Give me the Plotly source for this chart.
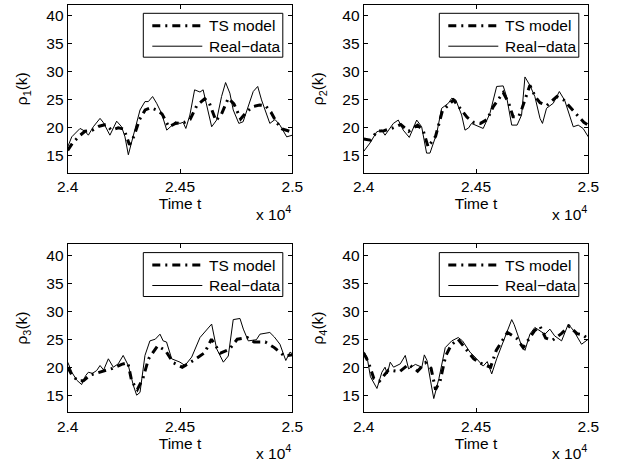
import plotly.graph_objects as go

# ---------------- data ----------------
t1_real = [24000, 24018, 24055, 24077, 24092, 24114, 24144, 24158, 24188, 24218, 24240, 24255, 24270, 24300,
           24322, 24344, 24359, 24378, 24396, 24418, 24441, 24463, 24478, 24500, 24514, 24526, 24544, 24565,
           24589, 24603, 24619, 24641, 24663, 24685, 24703, 24722, 24737, 24762, 24781, 24804, 24826, 24846,
           24863, 24900, 24923, 24945, 24975, 25000]
rho1_real = [16.6, 18.4, 19.9, 19.4, 18.7, 20.2, 21.7, 21.0, 18.7, 21.2, 20.2, 18.4, 15.2, 19.6,
             23.2, 24.7, 24.7, 25.6, 24.4, 22.6, 19.6, 20.4, 21.1, 20.8, 21.0, 19.9, 22.3, 26.8,
             26.4, 26.8, 24.1, 20.2, 21.4, 25.6, 28.1, 26.2, 23.2, 20.8, 21.1, 23.8, 26.5, 27.4,
             25.0, 20.8, 21.5, 20.5, 18.4, 18.7]
t1_ts = [24000, 24020, 24050, 24077, 24110, 24140, 24170, 24195, 24225, 24250, 24275, 24295, 24320, 24345,
         24370, 24395, 24420, 24450, 24480, 24520, 24545, 24575, 24610, 24630, 24660, 24685, 24715, 24740,
         24770, 24795, 24825, 24855, 24880, 24905, 24930, 24955, 24980, 25000]
rho1_ts = [16.0, 17.2, 18.5, 19.4, 19.6, 20.3, 20.6, 19.6, 20.0, 19.8, 17.0, 18.5, 21.5, 23.2,
           23.6, 23.2, 22.5, 20.2, 20.8, 21.0, 21.5, 24.0, 25.2, 24.5, 21.3, 22.5, 25.3, 24.3,
           21.6, 22.8, 23.8, 24.1, 24.0, 22.8, 21.0, 19.8, 19.5, 19.2]

t2_real = [24000, 24028, 24058, 24080, 24095, 24132, 24154, 24176, 24203, 24236, 24258, 24268, 24280, 24295,
           24325, 24347, 24377, 24392, 24410, 24436, 24451, 24467, 24480, 24532, 24562, 24592, 24621, 24636,
           24659, 24683, 24703, 24718, 24740, 24762, 24785, 24796, 24814, 24844, 24871, 24895, 24933, 24955,
           24977, 25000]
rho2_real = [15.8, 17.3, 19.3, 19.6, 18.7, 20.8, 21.4, 19.6, 18.3, 21.4, 20.2, 17.8, 15.5, 15.5,
             19.0, 23.5, 24.4, 25.3, 25.0, 22.3, 19.6, 20.0, 20.8, 19.9, 22.6, 27.4, 27.5, 25.6,
             20.5, 20.5, 22.3, 29.1, 27.6, 25.6, 21.7, 20.8, 23.5, 24.4, 26.5, 24.9, 20.2, 20.5,
             19.9, 18.4]
t2_ts = [24000, 24030, 24060, 24090, 24130, 24165, 24200, 24240, 24265, 24287, 24320, 24350, 24400, 24430,
         24460, 24490, 24520, 24550, 24577, 24621, 24645, 24665, 24690, 24705, 24740, 24765, 24785, 24815,
         24860, 24890, 24920, 24955, 24980, 25000]
rho2_ts = [18.0, 17.8, 19.4, 19.5, 20.0, 20.6, 19.4, 20.5, 19.5, 16.6, 18.5, 23.0, 25.0, 23.5,
           21.9, 21.0, 20.8, 21.5, 23.8, 26.3, 24.5, 22.0, 22.0, 23.5, 27.6, 25.5, 24.5, 24.0,
           25.6, 25.0, 23.7, 22.0, 21.0, 20.5]

t3_real = [24000, 24020, 24040, 24062, 24080, 24092, 24110, 24129, 24144, 24160, 24181, 24203, 24225, 24247,
           24270, 24292, 24307, 24322, 24344, 24366, 24390, 24411, 24425, 24440, 24463, 24500, 24522, 24552,
           24589, 24619, 24641, 24663, 24693, 24715, 24737, 24767, 24782, 24804, 24840, 24856, 24900, 24920,
           24945, 24971, 24990, 25000]
rho3_real = [20.9, 19.0, 17.7, 16.9, 18.5, 19.1, 18.9, 19.4, 20.3, 19.5, 21.5, 20.0, 20.6, 22.1,
             20.3, 16.8, 15.0, 15.5, 22.1, 24.7, 25.0, 25.9, 24.7, 24.5, 21.5, 20.9, 20.3, 21.8,
             25.3, 26.8, 27.7, 23.3, 20.9, 22.0, 28.5, 28.7, 26.8, 24.7, 24.9, 25.9, 26.2, 25.4,
             24.1, 21.2, 22.7, 22.4]
t3_ts = [24000, 24020, 24045, 24070, 24100, 24130, 24160, 24200, 24240, 24268, 24285, 24310, 24335, 24360,
         24400, 24435, 24470, 24510, 24560, 24610, 24640, 24680, 24720, 24755, 24800, 24830, 24880, 24920,
         24965, 25000]
rho3_ts = [20.0, 18.5, 17.6, 17.6, 18.6, 19.0, 19.3, 19.8, 20.5, 20.8, 17.5, 16.0, 18.0, 21.5,
           23.8, 23.0, 20.8, 20.0, 21.2, 22.6, 25.0, 22.5, 23.2, 25.0, 25.3, 24.5, 24.5, 23.5,
           22.0, 22.2]

t4_real = [24000, 24015, 24030, 24052, 24059, 24081, 24095, 24105, 24118, 24133, 24163, 24185, 24200, 24230,
           24259, 24270, 24282, 24300, 24312, 24335, 24363, 24392, 24421, 24440, 24473, 24503, 24532, 24550,
           24570, 24592, 24621, 24659, 24670, 24703, 24718, 24740, 24762, 24785, 24807, 24829, 24850, 24881,
           24911, 24935, 24970, 25000]
rho4_real = [22.8, 21.8, 18.3, 16.8, 16.2, 19.1, 20.0, 18.8, 20.9, 20.0, 20.6, 22.1, 19.7, 20.5,
             20.0, 22.2, 21.2, 17.0, 14.4, 18.0, 23.5, 24.7, 25.3, 24.7, 22.7, 21.5, 20.2, 21.0,
             18.8, 21.5, 24.4, 28.5, 27.6, 23.8, 23.0, 25.9, 27.1, 26.5, 25.9, 26.8, 25.6, 24.7,
             27.7, 26.5, 24.1, 25.0]
t4_ts = [24000, 24020, 24045, 24070, 24110, 24160, 24200, 24240, 24275, 24300, 24320, 24340, 24365, 24390,
         24420, 24460, 24490, 24530, 24565, 24590, 24640, 24680, 24710, 24760, 24785, 24810, 24840, 24880,
         24915, 24950, 24975, 25000]
rho4_ts = [22.5, 21.0, 18.0, 17.5, 19.5, 19.2, 20.5, 19.3, 20.8, 19.8, 16.0, 17.5, 22.0, 24.0,
           25.0, 23.0, 21.5, 20.5, 20.0, 23.0, 26.2, 25.2, 23.5, 26.5, 27.3, 25.2, 24.8, 26.0,
           27.3, 26.0, 25.8, 25.0]

x_tickvals = [24000, 24500, 25000]
x_ticktext = ["2.4", "2.45", "2.5"]
y_tickvals = [15, 20, 25, 30, 35, 40]
y_labels = ["ρ<sub>1</sub>(k)", "ρ<sub>2</sub>(k)", "ρ<sub>3</sub>(k)", "ρ<sub>4</sub>(k)"]
x_label = "Time t"
series_names = ["TS model", "Real−data"]

# ---------------- figure ----------------
W, H = 624, 461
FONT = "Liberation Sans, Arial, sans-serif"
FS = 15.5
TS_DASH = "8px,5px,2px,5px"

panels = [
    (t1_real, rho1_real, t1_ts, rho1_ts),
    (t2_real, rho2_real, t2_ts, rho2_ts),
    (t3_real, rho3_real, t3_ts, rho3_ts),
    (t4_real, rho4_real, t4_ts, rho4_ts),
]

# axes boxes in pixels: (left, right), (top, bottom)
xpix = [(67.7, 292.3), (363.7, 588.3)]
ypix = [(4.7, 172.7), (244.0, 412.0)]


def px(x):
    return x / W


def py(y):
    return 1 - y / H


fig = go.Figure()
layout = dict(
    width=W, height=H, margin=dict(l=0, r=0, t=0, b=0, autoexpand=False),
    paper_bgcolor="white", plot_bgcolor="white",
    font=dict(family=FONT, size=FS, color="black"),
    showlegend=False,
)
annotations = []
shapes = []

for i, (tr, vr, tt, vt) in enumerate(panels):
    k = i + 1
    xs = "" if k == 1 else str(k)
    row, col = divmod(i, 2)
    fig.add_trace(go.Scatter(
        x=tt, y=vt, mode="lines", name=series_names[0],
        line=dict(color="black", width=3, dash=TS_DASH),
        xaxis="x" + xs, yaxis="y" + xs))
    fig.add_trace(go.Scatter(
        x=tr, y=vr, mode="lines", name=series_names[1],
        line=dict(color="black", width=1),
        xaxis="x" + xs, yaxis="y" + xs))

    L, R = xpix[col]
    T, B = ypix[row]
    axcommon = dict(showline=True, linecolor="black", linewidth=1, mirror="ticks",
                    ticks="inside", ticklen=4, tickcolor="black", tickwidth=1,
                    showgrid=False, zeroline=False, automargin=False,
                    tickfont=dict(family=FONT, size=FS, color="black"))
    layout["xaxis" + xs] = dict(
        axcommon, domain=[px(L), px(R)], range=[24000, 25000],
        anchor="y" + xs, tickvals=x_tickvals, ticktext=x_ticktext,
        ticklabelstandoff=0,
        title=dict(text=x_label, standoff=2, font=dict(family=FONT, size=FS)))
    layout["yaxis" + xs] = dict(
        axcommon, domain=[py(B), py(T)], range=[12, 42],
        anchor="x" + xs, tickvals=y_tickvals, ticklabelstandoff=0,
        title=dict(text=y_labels[i], standoff=14, font=dict(family=FONT, size=FS)))

    # legend box (drawn as shapes + text, MATLAB style)
    bl, br = R - 149.0, R - 9.5
    bt, bb = T + 8.6, T + 52.5
    shapes.append(dict(type="rect", xref="paper", yref="paper",
                       x0=px(bl), x1=px(br), y0=py(bb), y1=py(bt),
                       line=dict(color="black", width=1), fillcolor="white", layer="above"))
    rows_y = [T + 21.0, T + 41.5]
    styles = [dict(color="black", width=3, dash=TS_DASH), dict(color="black", width=1)]
    for j in range(2):
        shapes.append(dict(type="line", xref="paper", yref="paper",
                           x0=px(bl + 9), x1=px(bl + 59), y0=py(rows_y[j]), y1=py(rows_y[j]),
                           line=styles[j], layer="above"))
        annotations.append(dict(
            text=series_names[j], xref="paper", yref="paper",
            x=px(bl + 64), y=py(rows_y[j]), xanchor="left", yanchor="middle",
            showarrow=False, font=dict(family=FONT, size=FS, color="black")))

    annotations.append(dict(
        text="x 10<sup>4</sup>", xref="paper", yref="paper",
        x=px(R + 1), y=py(B + 40), xanchor="right", yanchor="middle", showarrow=False,
        font=dict(family=FONT, size=FS, color="black")))

layout["annotations"] = annotations
layout["shapes"] = shapes
fig.update_layout(**layout)
fig.write_html("out.html", config={"displayModeBar": False},
               post_script="document.body.style.margin='0px';")
